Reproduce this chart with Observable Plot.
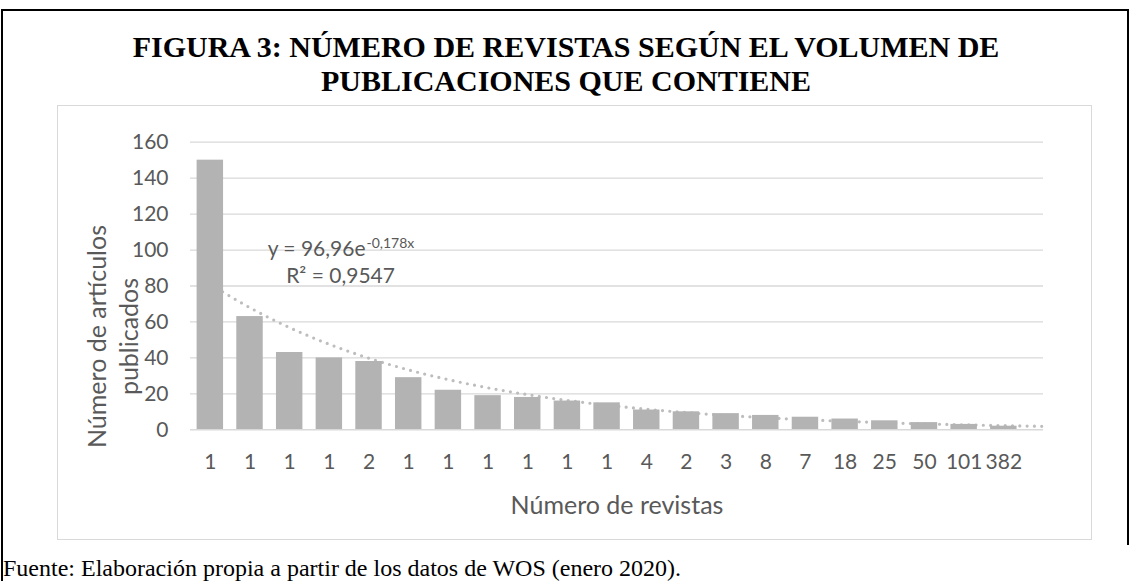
<!DOCTYPE html>
<html>
<head>
<meta charset="utf-8">
<script src="https://cdn.jsdelivr.net/npm/d3@7"></script>
<script src="https://cdn.jsdelivr.net/npm/@observablehq/plot@0.6"></script>
<style>
  html, body { margin: 0; padding: 0; background: #fff; }
  body { width: 1132px; height: 581px; position: relative; overflow: hidden; }
  .line { position: absolute; background: #000; }
  #title { position: absolute; left: 0; top: 30px; width: 1132px; text-align: center;
           font: 700 30px/34px "Liberation Serif", "Times New Roman", serif; color: #000; }
  #box { position: absolute; left: 57px; top: 105px; width: 1035px; height: 435px;
         outline: 1px solid #d9d9d9; outline-offset: -1px; }
  #box svg { display: block; }
  #caption { position: absolute; left: 3px; top: 555px; white-space: nowrap;
             font: 400 24px/26px "Liberation Serif", "Times New Roman", serif; color: #000; }
</style>
</head>
<body>
<div class="line" style="left:1px;top:9px;width:2px;height:572px"></div>
<div class="line" style="left:1px;top:9px;width:1128px;height:2px"></div>
<div class="line" style="left:1127px;top:9px;width:2px;height:536px"></div>
<div id="title">FIGURA 3: NÚMERO DE REVISTAS SEGÚN EL VOLUMEN DE<br>PUBLICACIONES QUE CONTIENE</div>
<div id="box"></div>
<div id="caption">Fuente: Elaboración propia a partir de los datos de WOS (enero 2020).</div>
<script>
// Tick labels on the x axis: number of journals in each group
const journalCounts = ["1","1","1","1","2","1","1","1","1","1","1","4","2","3","8","7","18","25","50","101","382"];
// Bar values: number of articles published
const articles = [150, 63, 43, 40, 38, 29, 22, 19, 18, 16, 15, 11, 10, 9, 8, 7, 6, 5, 4, 3, 2];
// Y axis ticks
const yTicks = [0, 20, 40, 60, 80, 100, 120, 140, 160];
// Exponential trendline shown on the chart: y = 96,96 e^(-0,178x), forecast forward to x = 22
const trendA = 96.96;
const trendB = -0.178;
const trendEnd = 22;
const eqMain = "y = 96,96e";
const eqExp = "-0,178x";
const eqR2 = "R² = 0,9547";
const xTitle = "Número de revistas";
const yTitle = "Número de artículos\npublicados";

const bars = articles.map((v, i) => ({pos: i + 1, v, label: journalCounts[i]}));
const trend = d3.range(1, trendEnd + 1e-9, 0.05).map(x => ({x, y: trendA * Math.exp(trendB * x)}));
const half = 1 / 3;

const chart = Plot.plot({
  width: 1035,
  height: 435,
  marginLeft: 133,
  marginRight: 49,
  marginTop: 36.7,
  marginBottom: 110.7,
  style: {fontFamily: "Lato, 'Open Sans', sans-serif", fontSize: "21px", color: "#595959", background: "transparent"},
  x: {type: "linear", domain: [0.5, trendEnd]},
  y: {domain: [0, 160]},
  marks: [
    Plot.gridY(yTicks.slice(1), {stroke: "#d9d9d9", strokeOpacity: 1, strokeWidth: 1.3}),
    Plot.line(trend, {x: "x", y: "y", stroke: "#bdbdbd", strokeWidth: 3.2, strokeDasharray: "0 7.3", strokeLinecap: "round"}),
    Plot.rectY(bars, {x1: d => d.pos - half, x2: d => d.pos + half, y1: 0, y2: "v", fill: "#b3b3b3"}),
    Plot.ruleY([0], {stroke: "#d9d9d9", strokeWidth: 1.6}),
    Plot.axisY(yTicks, {tickSize: 0, tickPadding: 22, label: null, fontSize: 21}),
    Plot.axisX(bars.map(d => d.pos), {tickSize: 0, tickPadding: 24, label: null, fontSize: 21,
      tickFormat: p => journalCounts[p - 1]}),
    Plot.text([eqMain], {frameAnchor: "top-left", dx: 175, dy: 113.3, textAnchor: "end", lineAnchor: "bottom", fontSize: 21, fill: "#595959"}),
    Plot.text([eqExp], {frameAnchor: "top-left", dx: 176, dy: 106, textAnchor: "start", lineAnchor: "bottom", fontSize: 14, fill: "#595959"}),
    Plot.text([eqR2], {frameAnchor: "top-left", dx: 95.7, dy: 140.6, textAnchor: "start", lineAnchor: "bottom", fontSize: 21, fill: "#595959"}),
    Plot.text([xTitle], {frameAnchor: "bottom", dy: 83.7, lineAnchor: "bottom", fontSize: 25, fill: "#595959"}),
    Plot.text([yTitle], {frameAnchor: "left", rotate: -90, dx: -79, dy: 50.5, lineAnchor: "middle", lineHeight: 1.28, textAnchor: "middle", fontSize: 25, fill: "#595959"})
  ]
});
document.getElementById("box").appendChild(chart);
</script>
</body>
</html>
